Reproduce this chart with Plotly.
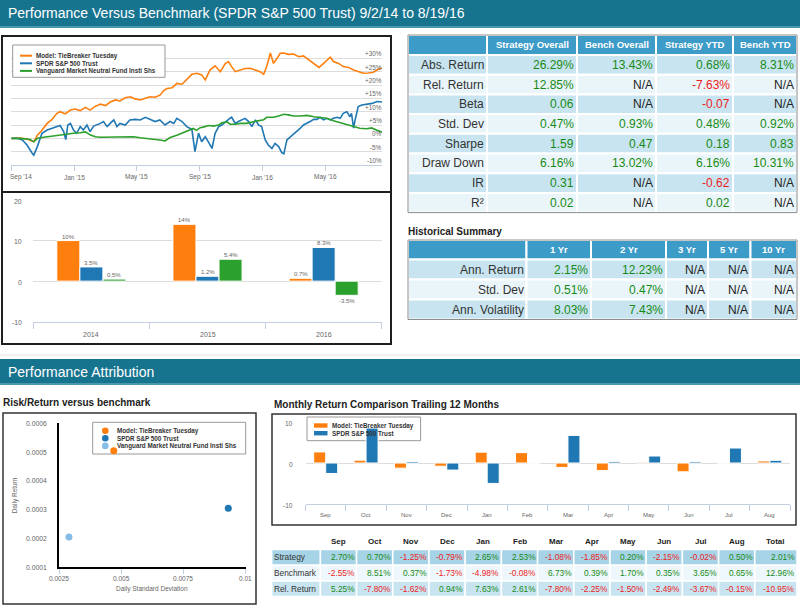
import plotly.graph_objects as go

W, H = 800, 605
FONT = "Liberation Sans, Arial, Helvetica, sans-serif"

# ---------------- data ----------------
series_names = ["Model: TieBreaker Tuesday", "SPDR S&P 500 Trust",
                "Vanguard Market Neutral Fund Insti Shs"]

model_dates = ["2014-09-02", "2014-09-19", "2014-10-02", "2014-10-15", "2014-10-22", "2014-10-31",
               "2014-11-10", "2014-11-19", "2014-11-29", "2014-12-05", "2014-12-15", "2014-12-25",
               "2015-01-03", "2015-01-13", "2015-01-23", "2015-02-01", "2015-02-11", "2015-02-21",
               "2015-03-03", "2015-03-12", "2015-03-22", "2015-03-31", "2015-04-10", "2015-04-20",
               "2015-04-29", "2015-05-09", "2015-05-19", "2015-05-28", "2015-06-07", "2015-06-17",
               "2015-06-23", "2015-06-30", "2015-07-10", "2015-07-19", "2015-07-29", "2015-08-07",
               "2015-08-17", "2015-08-27", "2015-09-05", "2015-09-12", "2015-09-21", "2015-10-01",
               "2015-10-11", "2015-10-21", "2015-10-27", "2015-11-02", "2015-11-09", "2015-11-19",
               "2015-11-28", "2015-12-08", "2015-12-18", "2015-12-27", "2016-01-03", "2016-01-09",
               "2016-01-16", "2016-01-22", "2016-01-29", "2016-02-04", "2016-02-11", "2016-02-20",
               "2016-03-01", "2016-03-11", "2016-03-20", "2016-03-30", "2016-04-09", "2016-04-19",
               "2016-04-28", "2016-05-04", "2016-05-11", "2016-05-17", "2016-05-27", "2016-06-05",
               "2016-06-15", "2016-06-25", "2016-07-04", "2016-07-14", "2016-07-24", "2016-08-02",
               "2016-08-12", "2016-08-19"]
model_cum = [0, 0.1, -0.3, -1.3, 1.2, 3.0,
             5.6, 7.0, 9.4, 10.0, 9.2, 10.6,
             11.0, 10.4, 11.6, 10.6, 12.0, 12.8,
             12.3, 13.6, 14.4, 14.0, 15.2, 15.6,
             14.8, 14.4, 15.0, 15.6, 15.4, 16.3,
             17.8, 18.7, 19.0, 20.6, 20.3, 22.0,
             24.0, 24.4, 23.8, 21.9, 25.6, 27.2,
             25.0, 28.1, 28.7, 26.9, 25.0, 25.6,
             26.2, 26.3, 25.6, 25.0, 24.0, 27.0,
             32.0, 28.1, 30.0, 31.9, 32.0, 31.5,
             31.6, 30.6, 30.9, 29.4, 28.1, 26.6,
             28.1, 29.0, 30.4, 28.8, 28.1, 26.9,
             26.6, 25.6, 25.0, 24.4, 24.5, 24.8,
             25.9, 26.3]

spdr_dates = ["2014-09-02", "2014-09-13", "2014-09-23", "2014-10-02", "2014-10-12", "2014-10-15",
              "2014-10-22", "2014-10-31", "2014-11-10", "2014-11-19", "2014-11-29", "2014-12-05",
              "2014-12-12", "2014-12-16", "2014-12-20", "2014-12-25", "2014-12-31", "2015-01-06",
              "2015-01-13", "2015-01-19", "2015-01-26", "2015-02-01", "2015-02-08", "2015-02-14",
              "2015-02-21", "2015-02-27", "2015-03-06", "2015-03-12", "2015-03-19", "2015-03-25",
              "2015-03-31", "2015-04-10", "2015-04-19", "2015-04-29", "2015-05-09", "2015-05-19",
              "2015-05-28", "2015-06-07", "2015-06-16", "2015-06-26", "2015-07-06", "2015-07-13",
              "2015-07-19", "2015-07-29", "2015-08-07", "2015-08-17", "2015-08-23", "2015-08-30",
              "2015-09-05", "2015-09-12", "2015-09-18", "2015-09-25", "2015-10-01", "2015-10-08",
              "2015-10-14", "2015-10-21", "2015-10-27", "2015-11-02", "2015-11-09", "2015-11-15",
              "2015-11-22", "2015-11-28", "2015-12-05", "2015-12-11", "2015-12-18", "2015-12-24",
              "2015-12-30", "2016-01-06", "2016-01-12", "2016-01-19", "2016-01-25", "2016-02-01",
              "2016-02-07", "2016-02-11", "2016-02-17", "2016-02-24", "2016-03-01", "2016-03-07",
              "2016-03-14", "2016-03-20", "2016-03-27", "2016-04-02", "2016-04-09", "2016-04-15",
              "2016-04-21", "2016-04-28", "2016-05-04", "2016-05-11", "2016-05-17", "2016-05-24",
              "2016-05-30", "2016-06-05", "2016-06-12", "2016-06-18", "2016-06-21", "2016-06-25",
              "2016-06-28", "2016-07-04", "2016-07-11", "2016-07-21", "2016-07-31", "2016-08-09",
              "2016-08-19"]
spdr_cum = [0, 0, -0.6, -2.5, -5.6, -6.3,
            -3.1, 1.9, 3.1, 3.8, 4.4, 4.8,
            2.5, -0.5, 5.0, 5.6, 3.1, 1.9,
            4.4, 3.1, 5.0, 2.5, 4.6, 5.0,
            5.6, 6.3, 4.4, 5.6, 6.9, 4.4,
            5.6, 5.0, 6.9, 7.1, 6.9, 7.9,
            7.1, 6.3, 6.9, 5.0, 6.3, 5.6,
            7.5, 6.3, 4.4, 3.4, -5.0, 1.9,
            -1.3, 0.6, -1.3, -3.8, 1.9, 4.4,
            5.0, 6.3, 7.1, 7.9, 5.6, 6.3,
            7.1, 7.5, 6.3, 4.4, 6.9, 5.0,
            4.4, -0.6, -2.5, -3.8, -1.9, -3.1,
            -5.4, -5.8, -0.6, 0.6, 1.3, 2.5,
            3.8, 5.0, 5.6, 6.3, 7.1, 7.1,
            7.9, 6.9, 7.5, 6.9, 7.5, 7.9,
            7.5, 9.4, 10.0, 8.1, 9.4, 3.8,
            6.9, 11.9, 12.5, 12.9, 13.1, 13.8,
            13.6]

vang_dates = ["2014-09-02", "2014-09-19", "2014-10-08", "2014-10-15", "2014-10-22", "2014-10-31",
              "2014-11-10", "2014-11-22", "2014-12-05", "2014-12-18", "2014-12-31", "2015-01-13",
              "2015-01-23", "2015-02-01", "2015-02-11", "2015-02-21", "2015-03-06", "2015-03-19",
              "2015-03-31", "2015-04-13", "2015-04-26", "2015-05-09", "2015-05-22", "2015-06-04",
              "2015-06-16", "2015-06-26", "2015-07-06", "2015-07-19", "2015-08-01", "2015-08-10",
              "2015-08-20", "2015-08-26", "2015-09-02", "2015-09-08", "2015-09-18", "2015-09-28",
              "2015-10-08", "2015-10-14", "2015-10-24", "2015-10-30", "2015-11-09", "2015-11-19",
              "2015-12-01", "2015-12-14", "2015-12-27", "2016-01-03", "2016-01-09", "2016-01-22",
              "2016-02-01", "2016-02-11", "2016-02-20", "2016-03-01", "2016-03-14", "2016-03-27",
              "2016-04-09", "2016-04-22", "2016-05-04", "2016-05-17", "2016-05-30", "2016-06-12",
              "2016-06-25", "2016-07-07", "2016-07-20", "2016-07-30", "2016-08-08", "2016-08-19"]
vang_cum = [0, 0, -0.4, -1.3, 0, 0.4,
            0.6, 0.9, 1.3, 1.6, 1.9, 2.1,
            2.4, 1.3, 0.6, 0.4, 0.4, 0.6,
            0.6, 0.4, 0.6, 0.2, 0, -0.4,
            -0.6, -1.0, 0.3, 1.2, 2.3, 3.1,
            3.7, 3.0, 4.0, 4.2, 4.8, 4.6,
            5.0, 5.8, 6.2, 5.3, 5.3, 5.6,
            5.6, 6.2, 6.6, 7.0, 7.9, 7.9,
            8.4, 9.0, 8.8, 8.4, 8.4, 8.6,
            8.1, 7.9, 7.5, 6.6, 5.9, 5.0,
            4.4, 3.8, 3.6, 3.9, 3.1, 2.3]

line_tick_dates = ["2014-09-01", "2015-01-01", "2015-05-01", "2015-09-01", "2016-01-01", "2016-05-01"]
line_tick_labels = ["Sep '14", "Jan '15", "May '15", "Sep '15", "Jan '16", "May '16"]
line_y_ticks = [-10, -5, 0, 5, 10, 15, 20, 25, 30, 35]
line_y_labels = ["-10%", "-5%", "0%", "+5%", "+10%", "+15%", "+20%", "+25%", "+30%", ""]

years = ["2014", "2015", "2016"]
year_model = [10, 14, 0.7]
year_spdr = [3.5, 1.2, 8.3]
year_vang = [0.5, 5.4, -3.5]
year_y_ticks = [-10, 0, 10, 20]

risk_names = series_names
risk_std = [0.0047, 0.0093, 0.0029]
risk_ret = [0.000505, 0.000305, 0.000205]
risk_x_ticks = [0.0025, 0.005, 0.0075, 0.01]
risk_x_labels = ["0.0025", "0.005", "0.0075", "0.01"]
risk_y_ticks = [0.0001, 0.0002, 0.0003, 0.0004, 0.0005, 0.0006]
risk_y_labels = ["0.0001", "0.0002", "0.0003", "0.0004", "0.0005", "0.0006"]

months = ["Sep", "Oct", "Nov", "Dec", "Jan", "Feb", "Mar", "Apr", "May", "Jun", "Jul", "Aug"]
strategy_monthly = [2.70, 0.70, -1.25, -0.79, 2.65, 2.53, -1.08, -1.85, 0.20, -2.15, -0.02, 0.50]
bench_monthly = [-2.55, 8.51, 0.37, -1.73, -4.98, -0.08, 6.73, 0.39, 1.70, 0.35, 3.65, 0.65]
rel_monthly = [5.25, -7.80, -1.62, 0.94, 7.63, 2.61, -7.80, -2.25, -1.50, -2.49, -3.67, -0.15]
monthly_totals = [2.01, 12.96, -10.95]
monthly_row_labels = ["Strategy", "Benchmark", "Rel. Return"]
monthly_y_ticks = [-10, 0, 10]

stat_labels = ["Abs. Return", "Rel. Return", "Beta", "Std. Dev", "Sharpe", "Draw Down", "IR", "R²"]
stat_columns = ["Strategy Overall", "Bench Overall", "Strategy YTD", "Bench YTD"]
strategy_overall = ["26.29%", "12.85%", "0.06", "0.47%", "1.59", "6.16%", "0.31", "0.02"]
bench_overall = ["13.43%", "N/A", "N/A", "0.93%", "0.47", "13.02%", "N/A", "N/A"]
strategy_ytd = ["0.68%", "-7.63%", "-0.07", "0.48%", "0.18", "6.16%", "-0.62", "0.02"]
bench_ytd = ["8.31%", "N/A", "N/A", "0.92%", "0.83", "10.31%", "N/A", "N/A"]

hist_labels = ["Ann. Return", "Std. Dev", "Ann. Volatility"]
hist_columns = ["1 Yr", "2 Yr", "3 Yr", "5 Yr", "10 Yr"]
hist_1yr = ["2.15%", "0.51%", "8.03%"]
hist_2yr = ["12.23%", "0.47%", "7.43%"]
hist_3yr = ["N/A", "N/A", "N/A"]
hist_5yr = ["N/A", "N/A", "N/A"]
hist_10yr = ["N/A", "N/A", "N/A"]

# ---------------- styles ----------------
ORANGE, BLUE, GREEN, LBLUE = "#ff7f0e", "#1f77b4", "#2ca02c", "#85bde9"
TEAL = "#17748f"
HEAD_BLUE = "#3d9bc8"
ROW_A, ROW_B = "#c8e4f0", "#eaf5fa"
POS, NEG, NEU = "#168a16", "#ee1c1c", "#222222"
AXIS_C = "#c0d0e0"
GRID_C = "#dcdcdc"
LBL_C = "#666666"
BARGAP = 0.405

LINE_BOX = (11, 45, 382, 165)
BAR_BOX = (33.3, 200, 381.7, 321.7)
SCAT_BOX = (59, 423.3, 245.7, 567.3)
MON_BOX = (305.5, 422, 790, 504)


def dx(b):
    return [b[0] / W, b[2] / W]


def dy(b):
    return [1 - b[3] / H, 1 - b[1] / H]


shapes, annotations = [], []


def rect(x0, y0, x1, y1, fill=None, lc=None, lw=0, layer="below"):
    shapes.append(dict(type="rect", xref="paper", yref="paper",
                       x0=x0 / W, x1=x1 / W, y0=1 - y1 / H, y1=1 - y0 / H,
                       fillcolor=fill or "rgba(0,0,0,0)",
                       line=dict(color=lc or "rgba(0,0,0,0)", width=lw), layer=layer))


def seg(x0, y0, x1, y1, color, lw, layer="above"):
    shapes.append(dict(type="line", xref="paper", yref="paper",
                       x0=x0 / W, x1=x1 / W, y0=1 - y0 / H, y1=1 - y1 / H,
                       line=dict(color=color, width=lw), layer=layer))


def circ(cx, cy, r, color, layer="above"):
    shapes.append(dict(type="circle", xref="paper", yref="paper",
                       x0=(cx - r) / W, x1=(cx + r) / W, y0=1 - (cy + r) / H, y1=1 - (cy - r) / H,
                       fillcolor=color, line=dict(width=0), layer=layer))


def txt(x, y, s, size, color="#333333", anchor="left", bold=False, family=FONT):
    annotations.append(dict(xref="paper", yref="paper", x=x / W, y=1 - y / H,
                            text=f"<b>{s}</b>" if bold else s, showarrow=False,
                            xanchor=anchor, yanchor="middle",
                            font=dict(size=size, color=color, family=family),
                            borderpad=0, borderwidth=0))


def axis_label(s, size, xref, x, yref, y, xanchor="center", yanchor="middle",
               xshift=0, yshift=0, angle=0):
    annotations.append(dict(xref=xref, yref=yref, x=x, y=y, text=s, showarrow=False,
                            xanchor=xanchor, yanchor=yanchor, xshift=xshift, yshift=yshift,
                            textangle=angle, font=dict(size=size, color=LBL_C, family=FONT),
                            borderpad=0, borderwidth=0))


def vcolor(s):
    if s == "N/A":
        return NEU
    return NEG if s.startswith("-") else POS


fig = go.Figure()

# ---------------- line chart ----------------
for name, d, v, c in zip(series_names, [model_dates, spdr_dates, vang_dates],
                         [model_cum, spdr_cum, vang_cum], [ORANGE, BLUE, GREEN]):
    fig.add_trace(go.Scatter(x=d, y=v, mode="lines", name=name, line=dict(color=c, width=1.6),
                             xaxis="x", yaxis="y", showlegend=False))
for i, (d, t) in enumerate(zip(line_tick_dates, line_tick_labels)):
    axis_label(t, 6.5, "x", d, "paper", 1 - 177 / H, xanchor="left" if i == 0 else "center",
               xshift=-1.5 if i == 0 else 0)
for v, t in zip(line_y_ticks, line_y_labels):
    if t:
        axis_label(t, 6.3, "paper", LINE_BOX[2] / W, "y", v, xanchor="right", yshift=4.5)

# ---------------- yearly bars ----------------
year_series = [year_model, year_spdr, year_vang]
cat_px = (BAR_BOX[2] - BAR_BOX[0]) / len(years)
bar_px = cat_px * (1 - BARGAP) / len(year_series)
for k, (name, v, c) in enumerate(zip(series_names, year_series, [ORANGE, BLUE, GREEN])):
    fig.add_trace(go.Bar(x=years, y=v, name=name,
                         marker=dict(color=c, line=dict(color="white", width=1)),
                         xaxis="x2", yaxis="y2", showlegend=False))
    for j, a in enumerate(v):
        axis_label(f"{a:g}%", 6, "x2", j, "y2", a, yanchor="bottom" if a >= 0 else "top",
                   xshift=(k - 1) * bar_px, yshift=1 if a >= 0 else -3)
for j, yr in enumerate(years):
    axis_label(yr, 7, "x2", j, "paper", 1 - 334 / H)
for v in year_y_ticks:
    axis_label(str(v), 6.8, "paper", 22 / W, "y2", v, xanchor="right", yshift=-1)

# ---------------- risk / return scatter ----------------
for name, sx, sy, c in zip(risk_names, risk_std, risk_ret, [ORANGE, BLUE, LBLUE]):
    fig.add_trace(go.Scatter(x=[sx], y=[sy], mode="markers", name=name,
                             marker=dict(color=c, size=7),
                             xaxis="x3", yaxis="y3", showlegend=False))
for v, t in zip(risk_x_ticks, risk_x_labels):
    axis_label(t, 6.5, "x3", v, "paper", 1 - 578.5 / H)
for v, t in zip(risk_y_ticks, risk_y_labels):
    axis_label(t, 6.8, "paper", 47 / W, "y3", v, xanchor="right")
axis_label("Daily Standard Deviation", 6.5, "x3 domain", 0.5, "paper", 1 - 589 / H)
axis_label("Daily Return", 6.5, "paper", 15 / W, "y3 domain", 0.5, angle=-90)

# ---------------- monthly bars ----------------
for name, v, c in zip(series_names[:2], [strategy_monthly, bench_monthly], [ORANGE, BLUE]):
    fig.add_trace(go.Bar(x=months, y=v, name=name,
                         marker=dict(color=c, line=dict(color="white", width=1)),
                         xaxis="x4", yaxis="y4", showlegend=False))
for j, m in enumerate(months):
    axis_label(m, 6, "x4", j, "paper", 1 - 515 / H)
for v in monthly_y_ticks:
    axis_label(str(v), 6.5, "paper", 293 / W, "y4", v, xanchor="right", yshift=-1)

# ---------------- header bands ----------------
rect(0, 0, 800, 26, fill=TEAL)
rect(0, 26, 800, 28, fill="#4b97ad")
txt(8, 13.5, "Performance Versus Benchmark (SPDR S&P 500 Trust) 9/2/14 to 8/19/16", 14, "white")

seg(0, 355, 800, 355, "#e3e3e3", 1, layer="below")
rect(0, 359, 800, 383, fill=TEAL)
rect(0, 383, 800, 385, fill="#4b97ad")
txt(8, 372, "Performance Attribution", 14, "white")

# chart frames
rect(2, 36, 391, 192, lc="#1e1e1e", lw=2, layer="above")
rect(2, 192, 391, 344, lc="#1e1e1e", lw=2, layer="above")
rect(3, 413, 256, 604, lc="#333333", lw=1.5, layer="above")
rect(272, 414, 796, 525, lc="#333333", lw=1.5, layer="above")

# line chart legend
rect(12.7, 45, 165, 77.3, fill="white", lc="#999999", lw=1, layer="above")
for i, (name, c) in enumerate(zip(series_names, [ORANGE, BLUE, GREEN])):
    yy = 55.7 + i * 7.6
    seg(20, yy, 32, yy, c, 2)
    txt(36, yy, name, 6.3, "#333", bold=True)

# scatter legend
rect(92.7, 422.3, 245.7, 454, fill="white", lc="#999999", lw=1, layer="below")
for i, (name, c) in enumerate(zip(risk_names, [ORANGE, BLUE, LBLUE])):
    yy = 430.7 + i * 7.6
    circ(105.3, yy, 3.3, c)
    txt(116.7, yy, name, 6.3, "#333", bold=True)

# monthly legend
rect(307, 417, 420.6, 440.7, fill="white", lc="#999999", lw=1, layer="below")
for i, (name, c) in enumerate(zip(series_names[:2], [ORANGE, BLUE])):
    yy = 425.5 + i * 7.7
    rect(314, yy - 2.2, 327.5, yy + 2.2, fill=c, layer="above")
    txt(332, yy, name, 6.3, "#333", bold=True)

# section titles
txt(408, 231.5, "Historical Summary", 10, "#222", bold=True)
txt(3, 402.5, "Risk/Return versus benchmark", 10, "#222", bold=True)
txt(274, 404.5, "Monthly Return Comparison Trailing 12 Months", 10, "#222", bold=True)

# ---------------- statistics table ----------------
T1X = [408, 487, 577, 656, 733, 797]
T1_TOP, T1_HH, T1_RH = 35, 20, 19.7
for i in range(5):
    rect(T1X[i], T1_TOP, T1X[i + 1], T1_TOP + T1_HH, fill=HEAD_BLUE, lc="white", lw=2)
for i, col in enumerate(stat_columns):
    txt((T1X[i + 1] + T1X[i + 2]) / 2, T1_TOP + T1_HH / 2, col, 9.5, "white", anchor="center", bold=True)
stat_values = [strategy_overall, bench_overall, strategy_ytd, bench_ytd]
for r, lab in enumerate(stat_labels):
    y0 = T1_TOP + T1_HH + r * T1_RH
    fill = ROW_A if r % 2 == 0 else ROW_B
    for i in range(5):
        rect(T1X[i], y0, T1X[i + 1], y0 + T1_RH, fill=fill, lc="white", lw=2)
    txt(T1X[1] - 3, y0 + T1_RH / 2, lab, 12, "#333", anchor="right")
    for i, colv in enumerate(stat_values):
        s = colv[r]
        txt(T1X[i + 2] - 3, y0 + T1_RH / 2, s, 12, vcolor(s), anchor="right")
rect(T1X[0], T1_TOP, T1X[-1], T1_TOP + T1_HH + len(stat_labels) * T1_RH, lc="#8c8c8c", lw=1)

# ---------------- historical summary table ----------------
T2X = [408, 526.5, 591, 666, 708, 750.5, 797]
T2_TOP, T2_HH, T2_RH = 240, 19.5, 20
for i in range(6):
    rect(T2X[i], T2_TOP, T2X[i + 1], T2_TOP + T2_HH, fill=HEAD_BLUE, lc="white", lw=2)
for i, col in enumerate(hist_columns):
    txt((T2X[i + 1] + T2X[i + 2]) / 2, T2_TOP + T2_HH / 2, col, 9.5, "white", anchor="center", bold=True)
hist_values = [hist_1yr, hist_2yr, hist_3yr, hist_5yr, hist_10yr]
for r, lab in enumerate(hist_labels):
    y0 = T2_TOP + T2_HH + r * T2_RH
    fill = ROW_A if r % 2 == 0 else ROW_B
    for i in range(6):
        rect(T2X[i], y0, T2X[i + 1], y0 + T2_RH, fill=fill, lc="white", lw=2)
    txt(T2X[1] - 3, y0 + T2_RH / 2, lab, 12, "#333", anchor="right")
    for i, colv in enumerate(hist_values):
        s = colv[r]
        txt(T2X[i + 2] - 3, y0 + T2_RH / 2, s, 12, vcolor(s), anchor="right")
rect(T2X[0], T2_TOP, T2X[-1], T2_TOP + T2_HH + len(hist_labels) * T2_RH, lc="#8c8c8c", lw=1)

# ---------------- monthly table ----------------
MX = [271.7, 320.4] + [320.4 + 36.2 * (i + 1) for i in range(12)] + [797]
M_HEAD_Y, M_TOP, M_RH = 541, 549.5, 15.7
for i, m in enumerate(months + ["Total"]):
    txt((MX[i + 1] + MX[i + 2]) / 2, M_HEAD_Y, m, 8, "#222", anchor="center", bold=True)
row_fills = ["#a6d3e6", "#eef7fb", "#c7e4f0"]
for r, (lab, vals) in enumerate(zip(monthly_row_labels, [strategy_monthly, bench_monthly, rel_monthly])):
    y0 = M_TOP + r * M_RH
    for i in range(14):
        rect(MX[i], y0, MX[i + 1], y0 + M_RH, fill=row_fills[r], lc="white", lw=1.5)
    txt(MX[0] + 2, y0 + M_RH / 2, lab, 8.3, "#333")
    for i, v in enumerate(vals + [monthly_totals[r]]):
        s = f"{v:.2f}%"
        txt(MX[i + 2] - 2, y0 + M_RH / 2, s, 8.3, vcolor(s), anchor="right")

# ---------------- layout ----------------
fig.update_layout(
    width=W, height=H, margin=dict(l=0, r=0, t=0, b=0),
    paper_bgcolor="white", plot_bgcolor="rgba(0,0,0,0)",
    font=dict(family=FONT), showlegend=False,
    barmode="group", bargap=BARGAP, bargroupgap=0,
    shapes=shapes, annotations=annotations,
    xaxis=dict(domain=dx(LINE_BOX), anchor="y", type="date",
               range=["2014-09-01", "2016-08-19"], tickvals=line_tick_dates, showticklabels=False,
               ticks="outside", ticklen=5, tickcolor=AXIS_C, showline=True, linecolor=AXIS_C,
               showgrid=False, zeroline=False),
    yaxis=dict(domain=dy(LINE_BOX), anchor="x", range=[-10, 35], side="right",
               tickvals=line_y_ticks, showticklabels=False,
               ticks="", showgrid=True, gridcolor=GRID_C, zeroline=False, showline=False),
    xaxis2=dict(domain=dx(BAR_BOX), anchor="y2", type="category", tickson="boundaries",
                range=[-0.5, len(years) - 0.5], showticklabels=False,
                ticks="outside", ticklen=6, tickcolor=AXIS_C, showline=True, linecolor=AXIS_C,
                showgrid=False, zeroline=False),
    yaxis2=dict(domain=dy(BAR_BOX), anchor="x2", range=[-10, 20], tickvals=year_y_ticks,
                showticklabels=False,
                ticks="", showgrid=True, gridcolor=GRID_C, zeroline=False, showline=False),
    xaxis3=dict(domain=dx(SCAT_BOX), anchor="y3", range=[0.0025, 0.01],
                tickvals=risk_x_ticks, showticklabels=False,
                ticks="outside", ticklen=5, tickcolor=AXIS_C, showline=True, linecolor="black",
                linewidth=2, showgrid=False, zeroline=False),
    yaxis3=dict(domain=dy(SCAT_BOX), anchor="x3", range=[0.0001, 0.0006],
                tickvals=risk_y_ticks, showticklabels=False, ticks="", showline=True,
                linecolor="black", linewidth=2, showgrid=False, zeroline=False),
    xaxis4=dict(domain=dx(MON_BOX), anchor="y4", type="category", tickson="boundaries",
                range=[-0.5, len(months) - 0.5], showticklabels=False,
                ticks="outside", ticklen=6, tickcolor=AXIS_C, showline=True, linecolor=AXIS_C,
                showgrid=False, zeroline=False),
    yaxis4=dict(domain=dy(MON_BOX), anchor="x4", range=[-10, 10], tickvals=monthly_y_ticks,
                showticklabels=False,
                ticks="", showgrid=True, gridcolor=GRID_C, zeroline=False, showline=False),
)

fig.write_html("out.html", config={"displayModeBar": False, "staticPlot": True},
               post_script="document.body.style.margin='0';document.body.style.overflow='hidden';")
